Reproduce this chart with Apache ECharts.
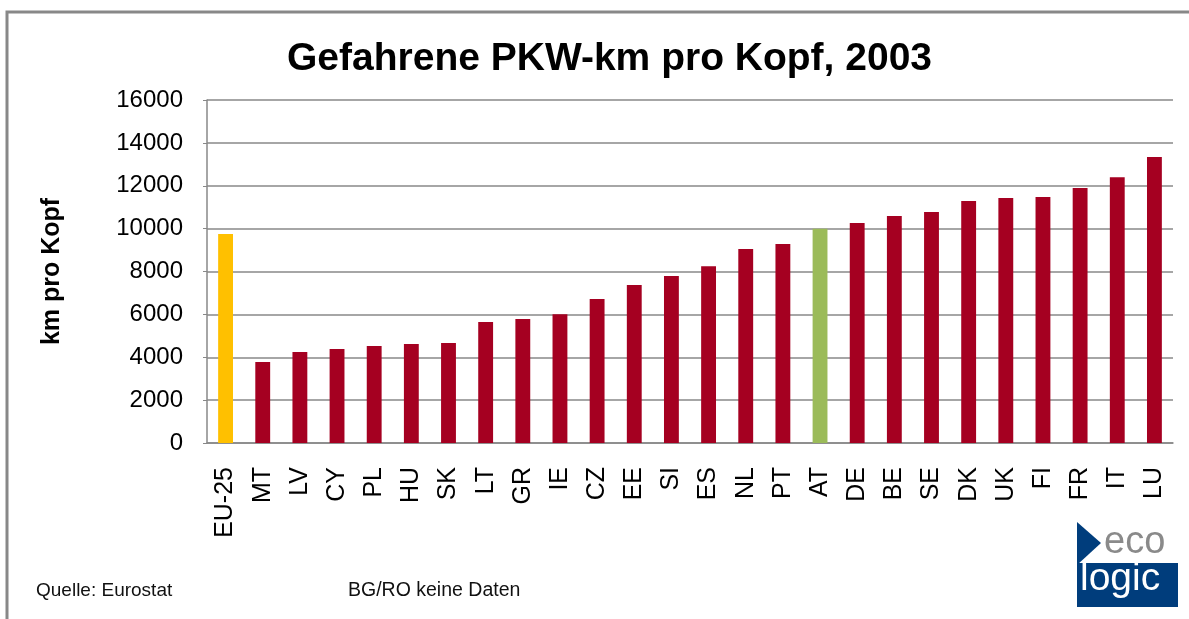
<!DOCTYPE html>
<html>
<head>
<meta charset="utf-8">
<script src="https://cdn.jsdelivr.net/npm/echarts@6/dist/echarts.min.js"></script>
<style>
  html, body { margin: 0; padding: 0; background: #fff; }
  #chart { width: 1189px; height: 619px; }
</style>
</head>
<body>
<div id="chart"></div>
<script>
// Länder (aufsteigend sortiert, EU-25 zuerst)
const countries = ['EU-25', 'MT', 'LV', 'CY', 'PL', 'HU', 'SK', 'LT', 'GR', 'IE', 'CZ', 'EE', 'SI',
  'ES', 'NL', 'PT', 'AT', 'DE', 'BE', 'SE', 'DK', 'UK', 'FI', 'FR', 'IT', 'LU']
// km pro Kopf, 2003
const kmPerHead = [9750, 3780, 4240, 4380, 4520, 4620, 4660, 5640, 5780, 6010, 6720, 7370, 7790,
  8250, 9050, 9280, 10000, 10260, 10590, 10770, 11290, 11430, 11470, 11890, 12400, 13340]
const yTicks = [0, 2000, 4000, 6000, 8000, 10000, 12000, 14000, 16000]

const RED = '#a50021'
const highlight = { 'EU-25': '#ffc000', 'AT': '#9bbb59' }
const FONT = 'Liberation Sans, Arial, sans-serif'

const chart = echarts.init(document.getElementById('chart'))
chart.setOption({
  animation: false,
  backgroundColor: '#fff',
  title: {
    text: 'Gefahrene PKW-km pro Kopf, 2003',
    left: 282,
    top: 35,
    textStyle: { fontFamily: FONT, fontSize: 39, fontWeight: 'bold', color: '#000' },
  },
  grid: { left: 207, right: 16, top: 100, bottom: 176 },
  xAxis: {
    type: 'category',
    data: countries,
    axisLine: { lineStyle: { color: '#888', width: 1.5 } },
    axisTick: { show: false },
    axisLabel: {
      interval: 0,
      rotate: 90,
      margin: 24,
      fontFamily: FONT,
      fontSize: 25,
      color: '#000',
    },
  },
  yAxis: {
    type: 'value',
    min: yTicks[0],
    max: yTicks[yTicks.length - 1],
    interval: 2000,
    name: 'km pro Kopf',
    nameLocation: 'middle',
    nameRotate: 90,
    nameGap: 142,
    nameTextStyle: { fontFamily: FONT, fontSize: 25, fontWeight: 'bold', color: '#000' },
    axisLine: { show: true, lineStyle: { color: '#888', width: 1.5 } },
    axisTick: { show: true, inside: false, length: 4, lineStyle: { color: '#888' } },
    axisLabel: { margin: 24, fontFamily: FONT, fontSize: 24, color: '#000', formatter: (v) => String(v) },
    splitLine: { lineStyle: { color: '#888', width: 1.5 } },
  },
  series: [
    {
      type: 'bar',
      barWidth: '40%',
      data: kmPerHead.map((v, i) => ({
        value: v,
        itemStyle: { color: highlight[countries[i]] || RED },
      })),
    },
  ],
  graphic: [
    // Rahmen
    {
      type: 'rect',
      shape: { x: 7, y: 12, width: 1200, height: 620 },
      style: { fill: null, stroke: '#888', lineWidth: 3 },
      silent: true,
    },
    {
      type: 'text',
      left: 36,
      top: 581,
      style: { text: 'Quelle: Eurostat', font: '19px ' + FONT, fill: '#111' },
    },
    {
      type: 'text',
      left: 348,
      top: 581,
      style: { text: 'BG/RO keine Daten', font: '19.5px ' + FONT, fill: '#111' },
    },
    // ecologic Logo
    {
      type: 'polygon',
      shape: { points: [[1077, 522], [1101, 543], [1077, 565]] },
      style: { fill: '#003d7c' },
    },
    {
      type: 'rect',
      shape: { x: 1077, y: 563, width: 101, height: 44 },
      style: { fill: '#003d7c' },
    },
    {
      type: 'text',
      left: 1104,
      top: 524,
      style: { text: 'eco', font: '38px ' + FONT, fill: '#8a8a8a' },
    },
    {
      type: 'text',
      left: 1080,
      top: 560,
      style: { text: 'logic', font: '39px ' + FONT, fill: '#fff' },
    },
  ],
})
</script>
</body>
</html>
